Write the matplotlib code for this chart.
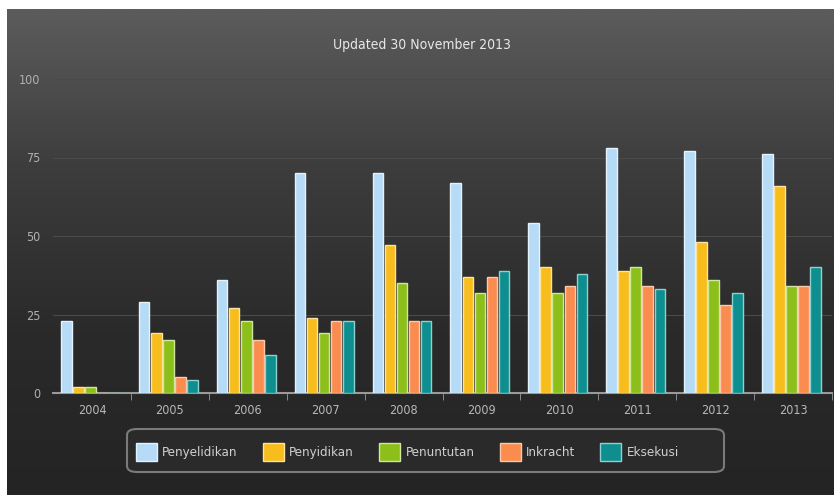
import numpy as np
import matplotlib
matplotlib.use("Agg")
import matplotlib.pyplot as plt
from matplotlib.patches import FancyBboxPatch
from matplotlib import font_manager

# data
years = ["2004", "2005", "2006", "2007", "2008", "2009", "2010", "2011", "2012", "2013"]
series_names = ["Penyelidikan", "Penyidikan", "Penuntutan", "Inkracht", "Eksekusi"]
penyelidikan = [23, 29, 36, 70, 70, 67, 54, 78, 77, 76]
penyidikan = [2, 19, 27, 24, 47, 37, 40, 39, 48, 66]
penuntutan = [2, 17, 23, 19, 35, 32, 32, 40, 36, 34]
inkracht = [0, 5, 17, 23, 23, 37, 34, 34, 28, 34]
eksekusi = [0, 4, 12, 23, 23, 39, 38, 33, 32, 40]
yticks = [0, 25, 50, 75, 100]

colors = ["#b5dbf7", "#f6bd1c", "#8cbf1a", "#fb8c50", "#0e8e8e"]
edges = ["#e4f2fc", "#fde3a0", "#cfe8a0", "#fdc9ab", "#8fd0d0"]

# narrow font if the system has one
names = {f.name for f in font_manager.fontManager.ttflist}
if "Liberation Sans Narrow" in names:
    plt.rcParams['font.family'] = ["Liberation Sans Narrow", "DejaVu Sans"]
else:
    plt.rcParams['font.family'] = ["DejaVu Sans"]
    plt.rcParams['font.stretch'] = "condensed"

fig = plt.figure(figsize=(8.34, 4.95), dpi=100, facecolor="white")

# gradient panel behind everything
bg = fig.add_axes([7 / 834, 0, 827 / 834, 486 / 495])
grad = np.linspace(0, 1, 256).reshape(-1, 1)
cmap = matplotlib.colors.LinearSegmentedColormap.from_list(
    "panel", ["#5c5c5c", "#3c3c3c", "#2a2a2a", "#242424"])
bg.imshow(grad, aspect="auto", cmap=cmap, extent=[0, 1, 0, 1], origin="upper")
bg.axis("off")

ax = fig.add_axes([53 / 834, 1 - 393 / 495, 779 / 834, 314 / 495])
ax.set_facecolor("none")

data = [penyelidikan, penyidikan, penuntutan, inkracht, eksekusi]
x = np.arange(len(years))
w = 0.155
for i, vals in enumerate(data):
    ax.bar(x + (i - 2) * w - 0.02, vals, width=w * 0.88, color=colors[i],
           edgecolor=edges[i], linewidth=1.0, label=series_names[i], zorder=3)

ax.set_xlim(-0.5, len(years) - 0.5)
ax.set_ylim(0, 100)
ax.set_yticks(yticks)
ax.set_yticklabels([str(v) for v in yticks])
ax.grid(axis="y", color="#4a4a4a", linewidth=0.8, zorder=0)
ax.set_xticks(x)
ax.set_xticklabels(years)
ax.set_xticks(np.arange(0.5, len(years), 1), minor=True)
ax.tick_params(axis="x", which="major", length=0, pad=8, colors="#b8b8b8", labelsize=9)
ax.tick_params(axis="x", which="minor", length=5, color="#9a9a9a", direction="out")
ax.tick_params(axis="y", length=0, pad=9, colors="#b0b0b0", labelsize=9)
for s in ["top", "right", "left"]:
    ax.spines[s].set_visible(False)
ax.spines["bottom"].set_color("#9a9a9a")
ax.spines["bottom"].set_linewidth(1.5)

fig.text(422 / 834, 1 - 45 / 495, "Updated 30 November 2013", ha="center", va="center",
         color="#e8e8e8", fontsize=10)

# legend box
box = FancyBboxPatch((127 / 834, 1 - 472 / 495), 597 / 834, 43 / 495,
                     boxstyle="round,pad=0,rounding_size=0.012",
                     transform=fig.transFigure, facecolor="#2a2a2a",
                     edgecolor="#7a7a7a", linewidth=1.5, zorder=1)
fig.patches.append(box)

handles, labels = ax.get_legend_handles_labels()
leg = fig.legend(handles, labels, loc="center left", ncol=5,
                 bbox_to_anchor=(124 / 834, 1 - 452 / 495), frameon=False,
                 handlelength=1.6, handleheight=1.7, handletextpad=0.4,
                 columnspacing=1.9, fontsize=9.5)
for t in leg.get_texts():
    t.set_color("#d0d0d0")

fig.savefig("out.png", dpi=100, facecolor="white")
